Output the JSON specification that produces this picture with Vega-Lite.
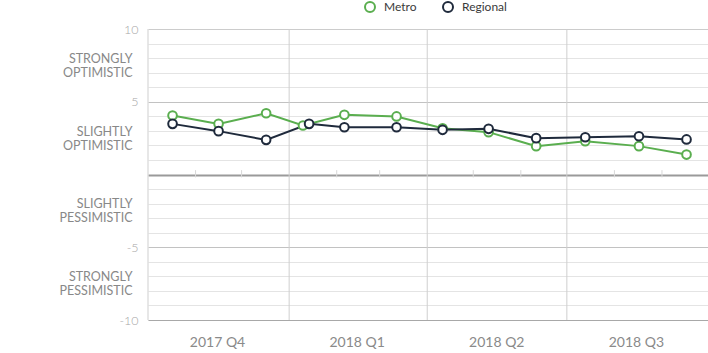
{
  "$schema": "https://vega.github.io/schema/vega-lite/v6.json",
  "width": 560,
  "height": 291,
  "autosize": "none",
  "padding": {"left": 148, "top": 29, "right": 0, "bottom": 33},
  "background": "white",
  "config": {
    "font": "Lato",
    "view": {"stroke": null},
    "axis": {"labelFont": "Lato", "titleFont": "Lato"},
    "legend": {
      "title": null,
      "orient": "none",
      "legendX": 216,
      "legendY": -28,
      "direction": "horizontal",
      "columns": 2,
      "padding": 0,
      "symbolType": "circle",
      "symbolSize": 100,
      "symbolStrokeWidth": 2,
      "symbolFillColor": "white",
      "symbolOpacity": 1,
      "labelFont": "Lato",
      "labelFontSize": 12,
      "labelFontWeight": "normal",
      "labelColor": "#3a3a3a",
      "labelOffset": 8,
      "columnPadding": 22
    }
  },
  "datasets": {
    "series": [
      {"date": "2017-10-17", "series": "Metro", "value": 4.05},
      {"date": "2017-11-16", "series": "Metro", "value": 3.48},
      {"date": "2017-12-17", "series": "Metro", "value": 4.21},
      {"date": "2018-01-10", "series": "Metro", "value": 3.37},
      {"date": "2018-02-06", "series": "Metro", "value": 4.10},
      {"date": "2018-03-12", "series": "Metro", "value": 3.99},
      {"date": "2018-04-11", "series": "Metro", "value": 3.18},
      {"date": "2018-05-11", "series": "Metro", "value": 2.91},
      {"date": "2018-06-11", "series": "Metro", "value": 1.95},
      {"date": "2018-07-13", "series": "Metro", "value": 2.29},
      {"date": "2018-08-17", "series": "Metro", "value": 1.95},
      {"date": "2018-09-17", "series": "Metro", "value": 1.37},
      {"date": "2017-10-17", "series": "Regional", "value": 3.48},
      {"date": "2017-11-16", "series": "Regional", "value": 2.98},
      {"date": "2017-12-17", "series": "Regional", "value": 2.38},
      {"date": "2018-01-14", "series": "Regional", "value": 3.48},
      {"date": "2018-02-06", "series": "Regional", "value": 3.25},
      {"date": "2018-03-12", "series": "Regional", "value": 3.25},
      {"date": "2018-04-11", "series": "Regional", "value": 3.07},
      {"date": "2018-05-11", "series": "Regional", "value": 3.14},
      {"date": "2018-06-11", "series": "Regional", "value": 2.50},
      {"date": "2018-07-13", "series": "Regional", "value": 2.56},
      {"date": "2018-08-17", "series": "Regional", "value": 2.63},
      {"date": "2018-09-17", "series": "Regional", "value": 2.41}
    ],
    "quarters": [
      {"start": "2017-10-01"},
      {"start": "2018-01-01"},
      {"start": "2018-04-01"},
      {"start": "2018-07-01"}
    ],
    "months": [
      {"start": "2017-11-01"},
      {"start": "2017-12-01"},
      {"start": "2018-02-01"},
      {"start": "2018-03-01"},
      {"start": "2018-05-01"},
      {"start": "2018-06-01"},
      {"start": "2018-08-01"},
      {"start": "2018-09-01"}
    ]
  },
  "layer": [
    {
      "data": {"name": "quarters"},
      "mark": {"type": "rule", "color": "#cfcfcf", "strokeWidth": 1},
      "encoding": {
        "x": {
          "field": "start",
          "type": "temporal",
          "scale": {
            "type": "utc",
            "domain": [
              {"year": 2017, "month": 10, "date": 1, "utc": true},
              {"year": 2018, "month": 10, "date": 1, "utc": true}
            ],
            "nice": false
          },
          "axis": {
            "title": null,
            "values": [
              {"year": 2017, "month": 11, "date": 15, "utc": true},
              {"year": 2018, "month": 2, "date": 14, "utc": true},
              {"year": 2018, "month": 5, "date": 16, "utc": true},
              {"year": 2018, "month": 8, "date": 15, "utc": true}
            ],
            "tickCount": 100,
            "labelExpr": "utcFormat(datum.value, '%Y') + ' Q' + utcquarter(datum.value)",
            "grid": false,
            "ticks": false,
            "domain": true,
            "domainColor": "#a8a8a8",
            "domainWidth": 1,
            "labelFontSize": 14,
            "labelColor": "#8a8a8a",
            "labelPadding": 15,
            "labelFlush": false,
            "labelOverlap": false
          }
        }
      }
    },
    {
      "data": {"name": "months"},
      "mark": {"type": "rule", "color": "#d8d8d8", "strokeWidth": 1},
      "encoding": {
        "x": {"field": "start", "type": "temporal"},
        "y": {"datum": -0.2, "type": "quantitative"},
        "y2": {"datum": 0.3}
      }
    },
    {
      "data": {"name": "series"},
      "mark": {"type": "line", "strokeWidth": 2},
      "encoding": {
        "x": {"field": "date", "type": "temporal"},
        "y": {
          "field": "value",
          "type": "quantitative",
          "scale": {"domain": [-10, 10], "nice": false, "zero": false},
          "axis": {
            "title": null,
            "values": [-10, -9, -8, -7.5, -7, -6, -5, -4, -3, -2.5, -2, -1, 0, 1, 2, 2.5, 3, 4, 5, 6, 7, 7.5, 8, 9, 10],
            "tickCount": 100,
            "labelExpr": "abs(datum.value) == 10 || abs(datum.value) == 5 ? '' + datum.value : datum.value == 7.5 ? ['STRONGLY', 'OPTIMISTIC'] : datum.value == 2.5 ? ['SLIGHTLY', 'OPTIMISTIC'] : datum.value == -2.5 ? ['SLIGHTLY', 'PESSIMISTIC'] : datum.value == -7.5 ? ['STRONGLY', 'PESSIMISTIC'] : ''",
            "labelOverlap": false,
            "labelFlush": false,
            "labelBound": false,
            "labelPadding": {"condition": {"test": "abs(datum.value) == 10 || abs(datum.value) == 5", "value": 10}, "value": 16},
            "labelOffset": {"condition": {"test": "abs(datum.value) == 10 || abs(datum.value) == 5", "value": 0}, "value": -7},
            "labelLineHeight": 14,
            "labelFontSize": {"condition": {"test": "abs(datum.value) == 10 || abs(datum.value) == 5", "value": 12.5}, "value": 12.5},
            "labelFontWeight": {"condition": {"test": "abs(datum.value) == 10 || abs(datum.value) == 5", "value": 300}, "value": "normal"},
            "labelColor": {"condition": {"test": "abs(datum.value) == 10 || abs(datum.value) == 5", "value": "#a6a6a6"}, "value": "#888888"},
            "ticks": false,
            "domain": false,
            "grid": true,
            "gridColor": {"condition": [
              {"test": "datum.value == 0", "value": "#9a9a9a"},
              {"test": "abs(datum.value) == 5", "value": "#c2c2c2"},
              {"test": "datum.value == 10", "value": "#cccccc"}
            ], "value": "#e4e4e4"},
            "gridWidth": {"condition": {"test": "datum.value == 0", "value": 2}, "value": 1},
            "gridOpacity": {"condition": {"test": "datum.value % 1 != 0", "value": 0}, "value": 1}
          }
        },
        "color": {
          "field": "series",
          "type": "nominal",
          "scale": {"domain": ["Metro", "Regional"], "range": ["#5aae4f", "#1f2a3c"]}
        }
      }
    },
    {
      "data": {"name": "series"},
      "mark": {"type": "point", "shape": "circle", "size": 75, "filled": false, "fill": "white", "fillOpacity": 1, "strokeWidth": 2, "opacity": 1},
      "encoding": {
        "x": {"field": "date", "type": "temporal"},
        "y": {"field": "value", "type": "quantitative"},
        "color": {"field": "series", "type": "nominal"}
      }
    }
  ]
}
